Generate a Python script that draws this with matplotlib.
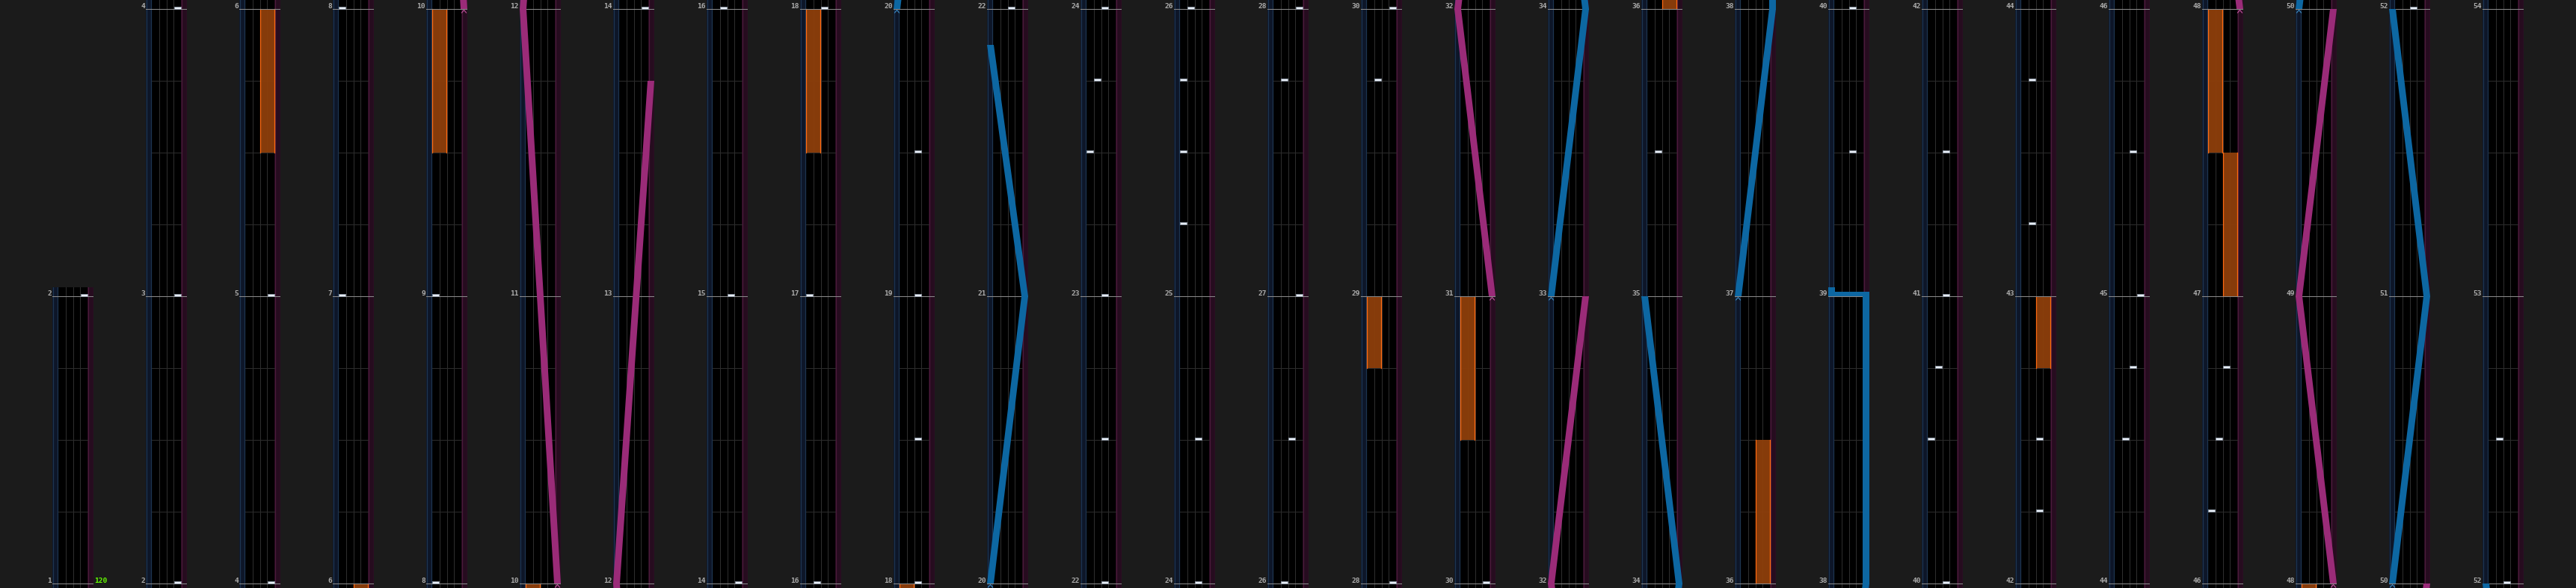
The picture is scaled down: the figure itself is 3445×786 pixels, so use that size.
import matplotlib
matplotlib.use('Agg')
import matplotlib.pyplot as plt
from matplotlib.patches import Rectangle, Polygon

# ---------------- chart data (times in measures, label numbering) ----------------
bt_time = [2.0, 3.0, 4.0, 5.0, 7.0, 8.0, 9.0, 14.0, 15.0, 16.0, 17.0, 18.0, 18.5, 19.0,
           19.5, 22.0, 22.5, 23.0, 23.5, 23.75, 24.0, 24.5, 25.25, 25.5, 25.75, 26.0,
           26.5, 27.0, 27.75, 28.0, 29.75, 30.0, 35.5, 39.5, 40.0, 40.5, 40.75,
           41.0, 41.5, 42.25, 42.5, 43.25, 43.75, 44.5, 44.75, 45.0, 45.5, 46.25, 46.5,
           46.75, 52.0, 52.5]
bt_lane = ['D', 'D', 'D', 'D', 'A', 'A', 'A', 'D', 'C', 'B', 'A', 'C', 'C', 'C',
           'C', 'C', 'C', 'C', 'A', 'B', 'C', 'C', 'A', 'A', 'A', 'B',
           'C', 'D', 'B', 'D', 'B', 'D', 'B', 'C', 'C', 'A', 'B',
           'C', 'C', 'C', 'C', 'B', 'B', 'B', 'C', 'D', 'C', 'A', 'B',
           'C', 'C', 'B']

fx_start = [5.5, 9.5, 17.5, 28.75, 30.5, 36.0, 42.75, 47.0, 47.5]
fx_end = [6.0, 10.0, 18.0, 29.0, 31.0, 36.5, 43.0, 47.5, 48.0]
fx_side = ['R', 'L', 'L', 'L', 'L', 'R', 'R', 'R', 'L']

laser_left = [
    [(20.0, 0.0), (21.0, 1.0), (21.875, 0.0)],
    [(33.0, 0.0), (34.0, 1.0), (35.0, 0.0)],
    [(37.0, 0.0), (38.0, 1.0), (39.0, 1.0)],
    [(50.0, 0.0), (51.0, 1.0), (52.0, 0.0)],
]
laser_right = [
    [(10.0, 1.0), (12.0, 0.0), (13.75, 1.0)],
    [(31.0, 1.0), (32.0, 0.0), (33.0, 1.0)],
    [(48.0, 1.0), (49.0, 0.0), (50.0, 1.0)],
]
slam_time = [39.0]
slam_from = [1.0]
slam_to = [0.0]

bpm_time = [1.0]
bpm_text = ['120']

n_columns = 27

# ---------------- style ----------------
BG = '#1b1b1b'
PX = 1.0 / 384.0          # one pixel in measure units
COLW = 55.0
LLW = 7.67
BTW = (COLW - 2 * LLW) / 4
LASER_W = 9.0
lane_idx = {'A': 0, 'B': 1, 'C': 2, 'D': 3}
BLUE = '#0d67a2'
PINK = '#9a2b78'

W, H = 3445, 786
fig = plt.figure(figsize=(W / 100, H / 100), dpi=100)
fig.patch.set_facecolor(BG)


def lx(v):
    return v * (COLW - LASER_W)


def draw_laser(ax, pts, color, caret):
    for (t1, v1), (t2, v2) in zip(pts[:-1], pts[1:]):
        x1, x2 = lx(v1), lx(v2)
        ax.add_patch(Polygon([(x1, t1), (x1 + LASER_W, t1), (x2 + LASER_W, t2), (x2, t2)],
                             closed=True, facecolor=color, edgecolor='none', zorder=5))
    t0, v0 = pts[0]
    xc = lx(v0) + LASER_W / 2
    ax.plot([xc - 3, xc, xc + 3], [t0 - 5 * PX, t0 - 1.5 * PX, t0 - 5 * PX],
            color=caret, lw=0.8, zorder=6)


for k in range(n_columns):
    T0 = 1.0 if k == 0 else 2.0 * k
    t_lo = T0 - 6 * PX
    t_hi = T0 + 2 + 12 * PX
    if k == 0:
        t_hi = T0 + 1 + 12 * PX
    h_px = (t_hi - t_lo) / PX
    ax = fig.add_axes([(70 + 125 * k) / W, 0, COLW / W, h_px / H])
    ax.set_facecolor('black')
    ax.set_xlim(0, COLW)
    ax.set_ylim(t_lo, t_hi)
    ax.set_xticks([])
    ax.set_yticks([])
    for s in ax.spines.values():
        s.set_visible(False)

    # laser lanes
    ax.add_patch(Rectangle((0, t_lo), LLW, t_hi - t_lo, facecolor='#0d1628', edgecolor='none', zorder=1))
    ax.add_patch(Rectangle((COLW - LLW, t_lo), LLW, t_hi - t_lo, facecolor='#260c1f', edgecolor='none', zorder=1))
    for x, c in [(0.5, '#1d3550'), (LLW - 0.5, '#1d3550'),
                 (COLW - LLW + 0.5, '#4a1a3a'), (COLW - 0.5, '#4a1a3a')]:
        ax.axvline(x, color=c, lw=0.9, zorder=1.5)
    # lane separators
    for i in range(1, 4):
        ax.axvline(LLW + i * BTW, color='#2e2e2e', lw=0.75, zorder=1.5)

    # beat lines and measure lines
    m0 = int(t_lo) - 1
    m1 = int(t_hi) + 1
    for m in range(m0, m1 + 1):
        for q in (0.25, 0.5, 0.75):
            tb = m + q
            if t_lo < tb < t_hi:
                ax.plot([LLW, COLW - LLW], [tb, tb], color='#2c2c2c', lw=0.75, zorder=1.6)
        if t_lo < m < t_hi:
            ax.plot([0, COLW], [m, m], color='#8a8a8a', lw=0.75, zorder=4)
            ax.text(-1.2, m + 0.8 * PX, str(m), ha='right', va='baseline',
                    fontsize=6.8, fontweight='bold', family='DejaVu Sans Mono',
                    color='#acacac', clip_on=False)

    # FX holds
    for ts, te, side in zip(fx_start, fx_end, fx_side):
        x0 = LLW if side == 'L' else LLW + 2 * BTW
        ax.add_patch(Rectangle((x0, ts), 2 * BTW, te - ts, facecolor='#8e3f0b',
                               edgecolor='none', alpha=0.95, zorder=2))
        ax.plot([x0 + 0.4, x0 + 0.4], [ts, te], color='#ff6a10', lw=0.9, zorder=2.1)
        ax.plot([x0 + 2 * BTW - 0.4, x0 + 2 * BTW - 0.4], [ts, te], color='#ff6a10', lw=0.9, zorder=2.1)

    # BT chips
    for t, ln in zip(bt_time, bt_lane):
        x0 = LLW + lane_idx[ln] * BTW + 0.6
        ax.add_patch(Rectangle((x0, t + 0.2 * PX), BTW - 1.2, 3.2 * PX, facecolor='#e8eef6',
                               edgecolor='#8e98a6', lw=0.6, zorder=4.5))

    # lasers
    for pts in laser_left:
        draw_laser(ax, pts, BLUE, '#3d8cc4')
    for pts in laser_right:
        draw_laser(ax, pts, PINK, '#c2559e')
    for ts, vf, vt in zip(slam_time, slam_from, slam_to):
        xa, xb = sorted([lx(vf), lx(vt)])
        ax.add_patch(Rectangle((xa, ts), xb - xa + LASER_W, 6 * PX, facecolor=BLUE,
                               edgecolor='none', zorder=5))
        ax.add_patch(Rectangle((lx(vt), ts), LASER_W, 12 * PX, facecolor=BLUE,
                               edgecolor='none', zorder=5))

    # BPM labels
    for tb, txt in zip(bpm_time, bpm_text):
        if t_lo < tb < t_hi:
            ax.text(COLW + 1.5, tb + 0.8 * PX, txt, ha='left', va='baseline',
                    fontsize=6.8, fontweight='bold', family='DejaVu Sans Mono',
                    color='#66ff00', clip_on=False)

fig.savefig('out.png', dpi=100, facecolor=BG)
